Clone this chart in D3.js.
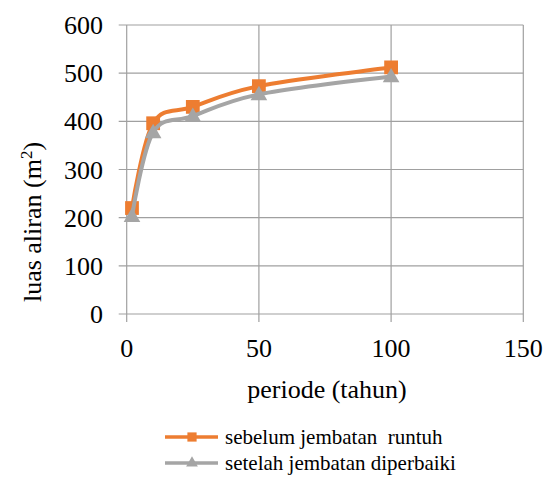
<!DOCTYPE html>
<html><head><meta charset="utf-8">
<script src="https://cdn.jsdelivr.net/npm/d3@7"></script>
</head>
<body style="margin:0">
<svg id="chart" width="551" height="477"></svg>
<script>
const periods = [2, 10, 25, 50, 100];
const sebelum = [220, 396, 430, 473, 512];
const setelah = [203, 377, 411, 456, 493];
const xTicks = [0, 50, 100, 150];
const yTicks = [0, 100, 200, 300, 400, 500, 600];
const seriesNames = ["sebelum jembatan\u00A0\u00A0runtuh", "setelah jembatan diperbaiki"];
const seriesColors = ["#ED7D31", "#A5A5A5"];
const F = 'Tinos, "Liberation Serif", "Times New Roman", serif';

const svg = d3.select("#chart");
const x = d3.scaleLinear().domain([0, 150]).range([126.7, 523.3]);
const y = d3.scaleLinear().domain([0, 600]).range([314, 25]);
const gridColor = "#A0A0A0";

svg.append("g").selectAll("line").data(yTicks).join("line")
  .attr("x1", x(0) - 8).attr("x2", x(150))
  .attr("y1", d => y(d)).attr("y2", d => y(d))
  .attr("stroke", gridColor).attr("stroke-width", 1.2);
svg.append("g").selectAll("line").data(xTicks).join("line")
  .attr("x1", d => x(d)).attr("x2", d => x(d))
  .attr("y1", y(600)).attr("y2", y(0) + 8)
  .attr("stroke", gridColor).attr("stroke-width", 1.2);

yTicks.forEach(d => {
  svg.append("text").attr("x", 103).attr("y", y(d) + 9)
    .attr("text-anchor", "end").attr("font-family", F)
    .style("font-family", F).style("font-size", "26px").text(String(d));
});
xTicks.forEach(d => {
  svg.append("text").attr("x", x(d)).attr("y", 357)
    .attr("text-anchor", "middle").attr("font-family", F)
    .style("font-family", F).style("font-size", "26px").text(String(d));
});

svg.append("text").attr("x", 327).attr("y", 398)
  .attr("text-anchor", "middle").attr("font-family", F)
  .style("font-family", F).style("font-size", "26px").text("periode (tahun)");
const yt = svg.append("text").attr("transform", "translate(41,222) rotate(-90)")
  .attr("text-anchor", "middle").attr("font-family", F)
  .style("font-family", F).style("font-size", "26px");
yt.append("tspan").text("luas aliran (m");
yt.append("tspan").attr("dy", -9).style("font-size", "17px").text("2");
yt.append("tspan").attr("dy", 9).text(")");

const line = d3.line().curve(d3.curveCardinal.tension(0))
  .x(d => x(d[0])).y(d => y(d[1]));
const data = [sebelum, setelah].map(v => periods.map((p, i) => [p, v[i]]));
const sym = [d3.symbolSquare, d3.symbolTriangle];

data.forEach((pts, k) => {
  const g = svg.append("g");
  g.append("path").datum(pts).attr("d", line)
    .attr("fill", "none").attr("stroke", seriesColors[k]).attr("stroke-width", 4);
  g.selectAll("path.m").data(pts).join("path").attr("class", "m")
    .attr("transform", d => `translate(${x(d[0])},${y(d[1]) + (k === 1 ? 1 : 0)})`)
    .attr("d", d3.symbol().type(sym[k]).size(k === 0 ? 190 : 120))
    .attr("fill", seriesColors[k]);
});

seriesNames.forEach((name, k) => {
  const ly = 437 + k * 26;
  svg.append("line").attr("x1", 165).attr("x2", 218).attr("y1", ly).attr("y2", ly)
    .attr("stroke", seriesColors[k]).attr("stroke-width", 3.5);
  svg.append("path").attr("transform", `translate(192,${ly})`)
    .attr("d", d3.symbol().type(sym[k]).size(k === 0 ? 85 : 60))
    .attr("fill", seriesColors[k]);
  svg.append("text").attr("x", 225).attr("y", ly + 7).attr("font-family", F)
    .style("font-family", F).style("font-size", "21px").text(name);
});
</script>
</body></html>
